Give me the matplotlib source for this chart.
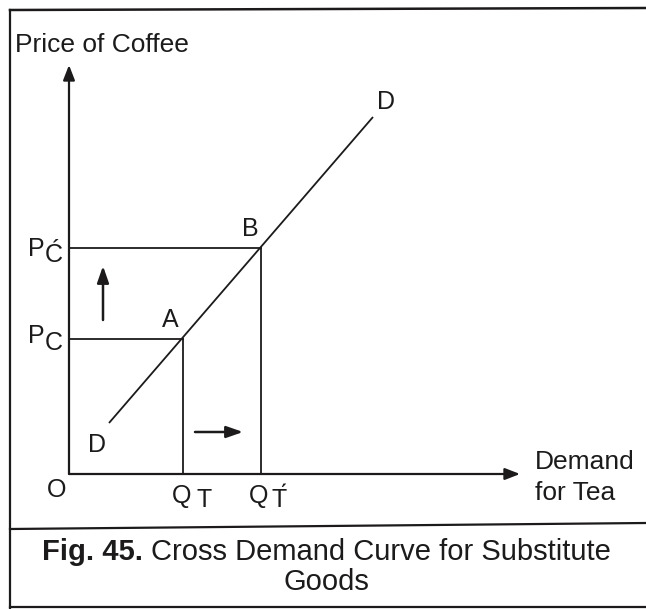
import matplotlib
matplotlib.use('Agg')
from matplotlib import pyplot as plt
from matplotlib.lines import Line2D

plt.rcParams['font.family'] = ['Liberation Sans', 'DejaVu Sans']

# quantities of tea demanded and prices of coffee (arbitrary units)
quantities = [114, 192]          # Q_T, Q_T'
prices = [135, 226]              # P_C, P_C'
points = ['A', 'B']
# demand curve DD (end points)
curve_q = [40, 304]
curve_p = [51, 357]

ink = '#1c1a1a'

fig = plt.figure(figsize=(6.46, 6.09), dpi=100)
ax = fig.add_axes([0, 0, 1, 1])
ax.set_xlim(-69, 577)
ax.set_ylim(-135, 474)
ax.axis('off')

# frame of the book figure
fig.add_artist(Line2D([10 / 646, 10 / 646], [0, 599 / 609], color=ink, lw=1.6))
fig.add_artist(Line2D([10 / 646, 1], [599 / 609, 601 / 609], color=ink, lw=1.8))
fig.add_artist(Line2D([10 / 646, 1], [80 / 609, 86 / 609], color=ink, lw=1.6))
fig.add_artist(Line2D([10 / 646, 1], [2 / 609, 2 / 609], color=ink, lw=1.6))

# axes with arrow heads
ax.annotate('', xy=(0, 409), xytext=(0, 0),
            arrowprops=dict(arrowstyle='-|>,head_length=0.9,head_width=0.35',
                            color=ink, lw=1.6, shrinkA=0, shrinkB=0))
ax.annotate('', xy=(451, 0), xytext=(0, 0),
            arrowprops=dict(arrowstyle='-|>,head_length=0.9,head_width=0.35',
                            color=ink, lw=1.6, shrinkA=0, shrinkB=0))

# demand curve
ax.plot(curve_q, curve_p, color=ink, lw=1.3, solid_capstyle='butt')

# guide lines from A and B
for q, p in zip(quantities, prices):
    ax.plot([0, q], [p, p], color=ink, lw=1.3)
    ax.plot([q, q], [0, p], color=ink, lw=1.3)

# shift arrows
ax.annotate('', xy=(34, 208), xytext=(34, 154),
            arrowprops=dict(arrowstyle='-|>,head_length=1.0,head_width=0.35',
                            color=ink, lw=1.8, shrinkA=0, shrinkB=0))
ax.annotate('', xy=(174, 42), xytext=(126, 42),
            arrowprops=dict(arrowstyle='-|>,head_length=1.0,head_width=0.35',
                            color=ink, lw=1.8, shrinkA=0, shrinkB=0))

fs = 18
txt = dict(color=ink, fontsize=fs, va='center')

# point labels
ax.text(quantities[0] - 13, prices[0] + 19, points[0], ha='center', **txt)
ax.text(quantities[1] - 11, prices[1] + 19, points[1], ha='center', **txt)
ax.text(curve_q[1] + 13, curve_p[1] + 15, 'D', ha='center', **txt)
ax.text(curve_q[0] - 12, curve_p[0] - 22, 'D', ha='center', **txt)
ax.text(-12, -16, 'O', ha='center', **txt)

# price labels
ax.text(-41, prices[0] + 3, 'P', ha='left', **txt)
ax.text(-24, prices[0] - 4, 'C', ha='left', **txt)
ax.text(-41, prices[1] - 1, 'P', ha='left', **txt)
ax.text(-24, prices[1] - 7, '\u0106', ha='left', **txt)

# quantity labels
ax.text(quantities[0] - 1, -22, 'Q', ha='center', **txt)
ax.text(quantities[0] + 21, -26, 'T', ha='center', **txt)
ax.text(quantities[1] - 2, -22, 'Q', ha='center', **txt)
ax.text(quantities[1] + 18, -26, 'T\u0301', ha='center', **txt)

# axis titles
ax.text(-54, 429, 'Price of Coffee', ha='left', color=ink, fontsize=19, va='center')
ax.text(466, 12, 'Demand', ha='left', color=ink, fontsize=19, va='center')
ax.text(466, -19, 'for Tea', ha='left', color=ink, fontsize=19, va='center')

# caption
bold = fig.text(42 / 646, 1 - 552 / 609, 'Fig. 45.', fontsize=21, fontweight='bold',
                color=ink, ha='left', va='center')
fig.canvas.draw()
bb = bold.get_window_extent()
fig.text((bb.x1 + 8) / 646, 1 - 552 / 609, 'Cross Demand Curve for Substitute',
         fontsize=21, color=ink, ha='left', va='center')
fig.text(326 / 646, 1 - 582 / 609, 'Goods', fontsize=21, color=ink,
         ha='center', va='center')

plt.savefig('out.png', dpi=100, facecolor='white')
